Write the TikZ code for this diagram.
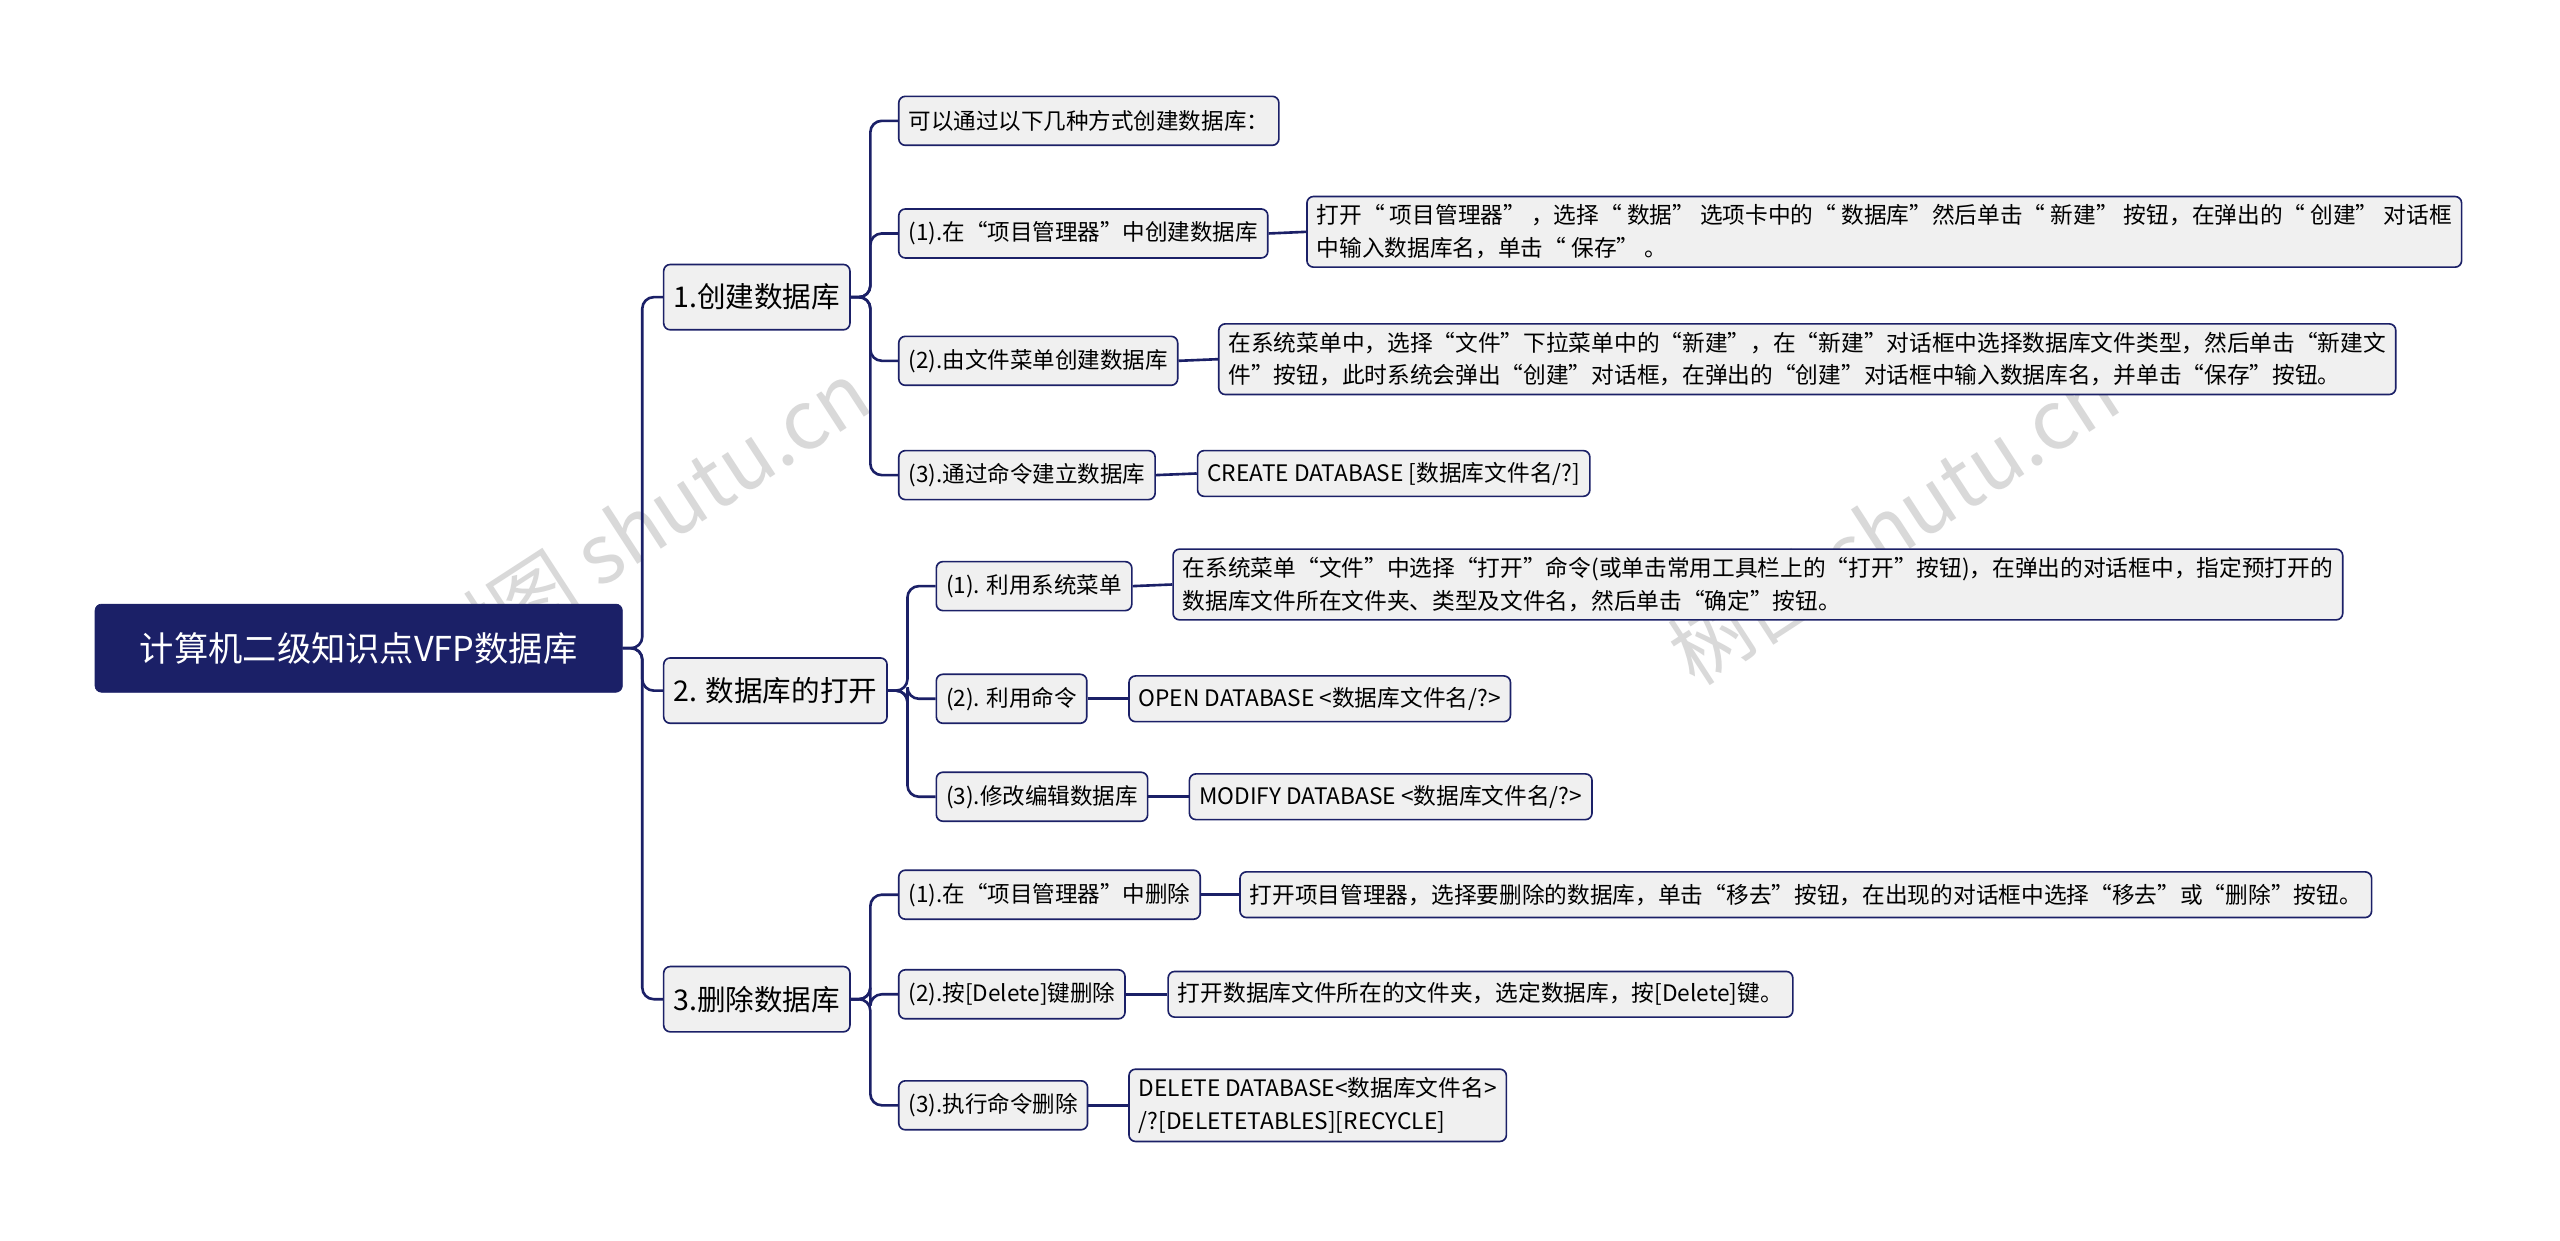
\documentclass[tikz,border=0pt]{standalone}
\usepackage{fontspec}
\setmainfont{Noto Sans CJK SC}
\definecolor{navy}{HTML}{1B2067}
\definecolor{boxf}{HTML}{F0F0F0}
\begin{document}
\begin{tikzpicture}[x=1pt,y=1pt,
 base/.style={draw=navy,line width=1pt,rounded corners=4pt,fill=boxf,anchor=west,inner xsep=6pt,align=left},
 lone/.style={base,font=\fontsize{17.5}{21}\selectfont,minimum height=40pt},
 ltwo/.style={base,font=\fontsize{13.8}{17}\selectfont,minimum height=30pt},
 ldet/.style={base,font=\fontsize{13.9}{20}\selectfont,minimum height=28pt,inner ysep=5pt},
 link/.style={draw=navy,line width=1.6pt,rounded corners=7pt}]
\useasboundingbox (0,0) rectangle (1568,-760);
\fill[white] (0,0) rectangle (1568,-760);
\node[text=gray!30,rotate=33,font=\fontsize{50}{54}\selectfont] (w1) at (395,-320) {树图 shutu.cn};
\node[text=gray!30,rotate=33,font=\fontsize{50}{54}\selectfont] (w2) at (1160,-320) {树图 shutu.cn};
\node[draw=navy,fill=navy,text=white,rounded corners=4pt,anchor=west,minimum height=54pt,minimum width=323pt,font=\fontsize{21}{25}\selectfont] (r) at (58,-397) {计算机二级知识点VFP数据库};
\node[lone] (a) at (406,-182) {1.创建数据库};
\node[lone] (b) at (406,-423) {2. 数据库的打开};
\node[lone] (c) at (406,-612) {3.删除数据库};
\foreach \n in {a,b,c} \draw[link] (r.east) -- ++(12,0) |- (\n.west);
\node[ltwo] (a1) at (550,-74) {可以通过以下几种方式创建数据库：};
\node[ltwo] (a2) at (550,-143) {(1).在“项目管理器”中创建数据库};
\node[ltwo] (a3) at (550,-221) {(2).由文件菜单创建数据库};
\node[ltwo] (a4) at (550,-291) {(3).通过命令建立数据库};
\foreach \n in {a1,a2,a3,a4} \draw[link] (a.east) -- ++(12,0) |- (\n.west);
\node[ldet] (a2d) at (800,-142) {打开“ 项目管理器” ，选择“ 数据” 选项卡中的“ 数据库”然后单击“ 新建” 按钮，在弹出的“ 创建” 对话框\\中输入数据库名，单击“ 保存” 。};
\node[ldet] (a3d) at (746,-220) {在系统菜单中，选择“文件”下拉菜单中的“新建”，在“新建”对话框中选择数据库文件类型，然后单击“新建文\\件”按钮，此时系统会弹出“创建”对话框，在弹出的“创建”对话框中输入数据库名，并单击“保存”按钮。};
\node[ldet] (a4d) at (733,-290) {CREATE DATABASE [数据库文件名/?]};
\draw[link] (a2.east) -- (a2d.west); \draw[link] (a3.east) -- (a3d.west); \draw[link] (a4.east) -- (a4d.west);
\node[ltwo] (b1) at (573,-359) {(1). 利用系统菜单};
\node[ltwo] (b2) at (573,-428) {(2). 利用命令};
\node[ltwo] (b3) at (573,-488) {(3).修改编辑数据库};
\foreach \n in {b1,b2,b3} \draw[link] (b.east) -- ++(12,0) |- (\n.west);
\node[ldet] (b1d) at (718,-358) {在系统菜单“文件”中选择“打开”命令(或单击常用工具栏上的“打开”按钮)，在弹出的对话框中，指定预打开的\\数据库文件所在文件夹、类型及文件名，然后单击“确定”按钮。};
\node[ldet] (b2d) at (691,-428) {OPEN DATABASE <数据库文件名/?>};
\node[ldet] (b3d) at (728,-488) {MODIFY DATABASE <数据库文件名/?>};
\draw[link] (b1.east) -- (b1d.west); \draw[link] (b2.east) -- (b2d.west); \draw[link] (b3.east) -- (b3d.west);
\node[ltwo] (c1) at (550,-548) {(1).在“项目管理器”中删除};
\node[ltwo] (c2) at (550,-609) {(2).按[Delete]键删除};
\node[ltwo] (c3) at (550,-677) {(3).执行命令删除};
\foreach \n in {c1,c2,c3} \draw[link] (c.east) -- ++(12,0) |- (\n.west);
\node[ldet] (c1d) at (759,-548) {打开项目管理器，选择要删除的数据库，单击“移去”按钮，在出现的对话框中选择“移去”或“删除”按钮。};
\node[ldet] (c2d) at (715,-609) {打开数据库文件所在的文件夹，选定数据库，按[Delete]键。};
\node[ldet] (c3d) at (691,-677) {DELETE DATABASE<数据库文件名>\\ /?[DELETETABLES][RECYCLE]};
\draw[link] (c1.east) -- (c1d.west); \draw[link] (c2.east) -- (c2d.west); \draw[link] (c3.east) -- (c3d.west);
\end{tikzpicture}
\end{document}
